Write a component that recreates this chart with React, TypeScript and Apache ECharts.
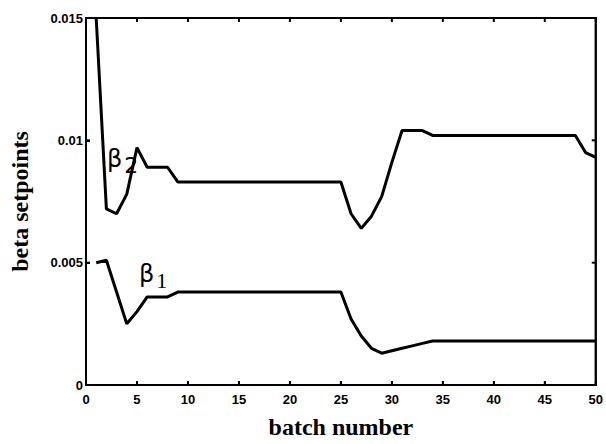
import React, { useEffect, useRef } from "react";
import * as echarts from "echarts";

const batches = [1,2,3,4,5,6,7,8,9,10,11,12,13,14,15,16,17,18,19,20,21,22,23,24,25,26,27,28,29,30,31,32,33,34,35,36,37,38,39,40,41,42,43,44,45,46,47,48,49,50];
const beta2 = [0.0150,0.0072,0.0070,0.0078,0.0097,0.0089,0.0089,0.0089,0.0083,0.0083,0.0083,0.0083,0.0083,0.0083,0.0083,0.0083,0.0083,0.0083,0.0083,0.0083,0.0083,0.0083,0.0083,0.0083,0.0083,0.0070,0.0064,0.0069,0.0077,0.0091,0.0104,0.0104,0.0104,0.0102,0.0102,0.0102,0.0102,0.0102,0.0102,0.0102,0.0102,0.0102,0.0102,0.0102,0.0102,0.0102,0.0102,0.0102,0.0095,0.0093];
const beta1 = [0.0050,0.0051,0.0038,0.0025,0.0030,0.0036,0.0036,0.0036,0.0038,0.0038,0.0038,0.0038,0.0038,0.0038,0.0038,0.0038,0.0038,0.0038,0.0038,0.0038,0.0038,0.0038,0.0038,0.0038,0.0038,0.0027,0.0020,0.0015,0.0013,0.0014,0.0015,0.0016,0.0017,0.0018,0.0018,0.0018,0.0018,0.0018,0.0018,0.0018,0.0018,0.0018,0.0018,0.0018,0.0018,0.0018,0.0018,0.0018,0.0018,0.0018];
const xTickValues = [0, 5, 10, 15, 20, 25, 30, 35, 40, 45, 50];
const yTickValues = [0, 0.005, 0.01, 0.015];
const xTicks = { min: 0, max: 50, interval: 5 };
const yTicks = { min: 0, max: 0.015, interval: 0.005 };

export default function App() {
  const ref = useRef<HTMLDivElement>(null);
  useEffect(() => {
    const chart = echarts.init(ref.current!, null, { renderer: "svg" });
    const line = { show: true, onZero: false, lineStyle: { color: "#000", width: 2 } };
    chart.setOption({
      animation: false,
      grid: { left: 82, right: 10, top: 18, bottom: 51, show: true, borderColor: "#000", borderWidth: 2 },
      xAxis: {
        type: "value", ...xTicks,
        axisLine: line,
        axisTick: { show: true, inside: true, length: 4, lineStyle: { color: "#000", width: 2 } },
        splitLine: { show: false },
        axisLabel: { color: "#000", fontFamily: "Liberation Sans", fontWeight: "bold", fontSize: 13, margin: 8 },
        name: "batch number", nameLocation: "middle", nameGap: 30,
        nameTextStyle: { color: "#000", fontFamily: "Liberation Serif", fontSize: 24, fontWeight: "bold" },
      },
      yAxis: {
        type: "value", ...yTicks,
        axisLine: line,
        axisTick: { show: true, inside: true, length: 4, lineStyle: { color: "#000", width: 2 } },
        splitLine: { show: false },
        axisLabel: { color: "#000", fontFamily: "Liberation Sans", fontWeight: "bold", fontSize: 13, margin: 3 },
        name: "beta setpoints", nameLocation: "middle", nameGap: 54,
        nameTextStyle: { color: "#000", fontFamily: "Liberation Serif", fontSize: 24, fontWeight: "bold" },
      },
      series: [
        {
          type: "line", name: "beta2", showSymbol: false,
          data: batches.map((b, i) => [b, beta2[i]]),
          lineStyle: { color: "#000", width: 3 },
        },
        {
          type: "line", name: "beta1", showSymbol: false,
          data: batches.map((b, i) => [b, beta1[i]]),
          lineStyle: { color: "#000", width: 3 },
        },
      ],
    });

    const p0 = chart.convertToPixel({ gridIndex: 0 }, [0, 0]) as number[];
    const p1 = chart.convertToPixel({ gridIndex: 0 }, [50, 0.015]) as number[];
    const stroke = { stroke: "#000", lineWidth: 2, fill: "none" };
    const frame: any[] = [
      { type: "rect", shape: { x: p0[0], y: p1[1], width: p1[0] - p0[0], height: p0[1] - p1[1] }, style: stroke, z: 100 },
    ];
    xTickValues.forEach((v) => {
      const px = (chart.convertToPixel({ gridIndex: 0 }, [v, 0]) as number[])[0];
      frame.push({ type: "line", shape: { x1: px, y1: p0[1], x2: px, y2: p0[1] - 4 }, style: stroke, z: 100 });
      frame.push({ type: "line", shape: { x1: px, y1: p1[1], x2: px, y2: p1[1] + 4 }, style: stroke, z: 100 });
    });
    yTickValues.forEach((v) => {
      const py = (chart.convertToPixel({ gridIndex: 0 }, [0, v]) as number[])[1];
      frame.push({ type: "line", shape: { x1: p0[0], y1: py, x2: p0[0] + 4, y2: py }, style: stroke, z: 100 });
      frame.push({ type: "line", shape: { x1: p1[0], y1: py, x2: p1[0] - 4, y2: py }, style: stroke, z: 100 });
    });

    chart.setOption({
      graphic: [
        ...frame,
        {
          type: "text", left: 107, top: 147,
          style: {
            text: "{b|β}{s|2}",
            rich: {
              b: { fontFamily: "DejaVu Sans", fontSize: 24, fill: "#000" },
              s: { fontFamily: "DejaVu Sans", fontSize: 22, fill: "#000", padding: [12, 0, 0, 2] },
            },
          },
        },
        {
          type: "text", left: 139, top: 262,
          style: {
            text: "{b|β}{s|1}",
            rich: {
              b: { fontFamily: "DejaVu Sans", fontSize: 24, fill: "#000" },
              s: { fontFamily: "Liberation Serif", fontSize: 22, fill: "#000", padding: [12, 0, 0, 2] },
            },
          },
        },
      ],
    });
    return () => chart.dispose();
  }, []);
  return <div ref={ref} style={{ position: "absolute", left: 0, top: 0, width: 606, height: 444 }} />;
}
